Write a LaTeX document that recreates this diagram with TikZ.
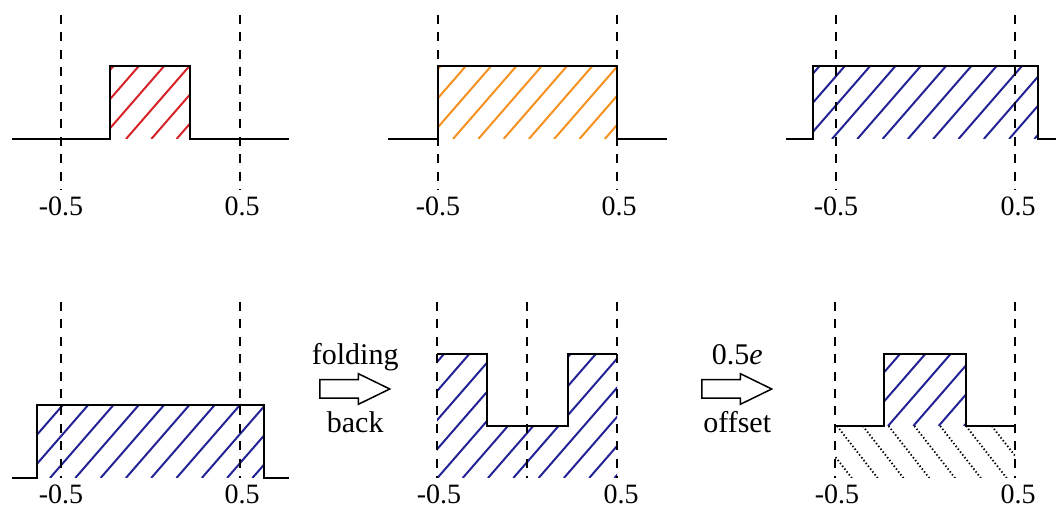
\documentclass[tikz,border=0pt]{standalone}
\usepackage{xcolor}
\usepackage{fontspec}
\setmainfont{Liberation Serif}
\usepackage{tikz}
\usetikzlibrary{positioning,calc,shapes.arrows}
\definecolor{hatchred}{RGB}{215,35,40}
\definecolor{hatchorange}{RGB}{245,145,30}
\definecolor{hatchblue}{RGB}{35,35,150}
\tikzset{
  sig/.style={line width=0.75pt, line join=miter},
  guide/.style={line width=0.65pt, dash pattern=on 4.5pt off 4.2pt},
  hatchline/.style={line width=1pt},
  dotline/.style={line width=0.9pt, dash pattern=on 0.7pt off 1.1pt},
  ticklabel/.style={font=\fontsize{14}{16}\selectfont, anchor=base, inner sep=0pt},
  blockarrow/.style={single arrow, draw, line width=0.75pt, fill=white,
    minimum height=35pt, minimum width=14.5pt, single arrow head extend=3pt,
    single arrow tip angle=52, inner xsep=0pt, inner ysep=4.25pt, anchor=tail},
  arrowtext/.style={font=\fontsize{15}{17}\selectfont, inner sep=0pt,
    text height=10.5pt, text depth=3.3pt}
}
% #1 colour, #2 phase (x at bottom), #3 bottom y, #4 clip path
\newcommand{\hatchfill}[4]{%
  \begin{scope}
    \clip #4;
    \foreach \k in {-9,...,12}
      \draw[hatchline, #1] ({#2+25.3*\k},#3) -- ++(49:190);
  \end{scope}}

\begin{document}
\begin{tikzpicture}[x=0.5pt, y=0.5pt]
\useasboundingbox (0,0) rectangle (1056,509);

% top row: the three pulses
\hatchfill{hatchred}{126}{370}{(110,370) rectangle (190,443)}
\hatchfill{hatchorange}{453}{370}{(438,370) rectangle (617,443)}
\hatchfill{hatchblue}{832}{370}{(813,370) rectangle (1038,443)}

\draw[sig] (12,370) -- (110,370) -- (110,443) -- (190,443) -- (190,370) -- (289,370);
\draw[sig] (388,370) -- (438,370) -- (438,443) -- (617,443) -- (617,370) -- (667,370);
\draw[sig] (786,370) -- (813,370) -- (813,443) -- (1038,443) -- (1038,370) -- (1056,370);

\foreach \x in {61,240,438,617,836,1015}
  \draw[guide] (\x,494) -- (\x,319);

\node[ticklabel] (lo1) at (61,293) {-0.5};
\node[ticklabel] (hi1) at (242,293) {0.5};
\node[ticklabel] (lo2) at (438,293) {-0.5};
\node[ticklabel] (hi2) at (619,293) {0.5};
\node[ticklabel] (lo3) at (836,293) {-0.5};
\node[ticklabel] (hi3) at (1018,293) {0.5};

% bottom row: wide pulse, folded back, offset
\hatchfill{hatchblue}{50}{31}{(37,31) rectangle (264,104)}
\hatchfill{hatchblue}{488}{31}{(437,31) -- (437,155) -- (487,155) -- (487,83)
  -- (568,83) -- (568,155) -- (617,155) -- (617,31) -- cycle}
\hatchfill{hatchblue}{888}{83}{(884,83) rectangle (966,155)}
\begin{scope}
  \clip (835,31) rectangle (1015,83);
  \foreach \k in {-3,...,12}
    \draw[dotline] ({837+25.8*\k},83) -- ++(-52:120);
\end{scope}

\draw[sig] (12,31) -- (37,31) -- (37,104) -- (264,104) -- (264,31) -- (289,31);
\draw[sig] (437,155) -- (487,155) -- (487,83) -- (568,83) -- (568,155) -- (617,155);
\draw[sig] (835,83) -- (884,83) -- (884,155) -- (966,155) -- (966,83) -- (1015,83);

\foreach \x in {61,240,437,527,617,835,1015}
  \draw[guide] (\x,207) -- (\x,31);

\node[ticklabel] (lo4) at (61,5) {-0.5};
\node[ticklabel] (hi4) at (242,5) {0.5};
\node[ticklabel] (lo5) at (439,5) {-0.5};
\node[ticklabel] (hi5) at (621,5) {0.5};
\node[ticklabel] (lo6) at (837,5) {-0.5};
\node[ticklabel] (hi6) at (1018,5) {0.5};

\node[blockarrow] (fold) at (319,120) {};
\coordinate (foldmid) at ($(fold.tail)!0.5!(fold.tip)$);
\node[arrowtext, above=8.7pt of foldmid] (foldtop) {folding};
\node[arrowtext, below=11pt of foldmid] (foldbot) {back};

\node[blockarrow] (shift) at (701,120) {};
\coordinate (shiftmid) at ($(shift.tail)!0.5!(shift.tip)$);
\node[arrowtext, above=8.7pt of shiftmid] (shifttop) {0.5\textit{e}};
\node[arrowtext, below=11pt of shiftmid] (shiftbot) {offset};
\end{tikzpicture}
\end{document}
